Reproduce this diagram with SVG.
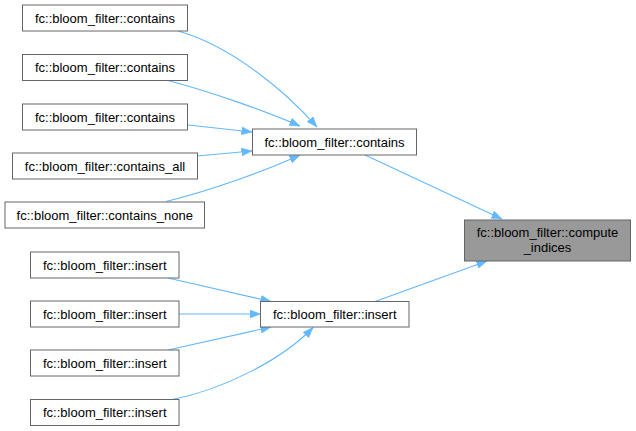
<svg xmlns="http://www.w3.org/2000/svg" width="636" height="431" viewBox="0 0 636 431">
<defs>
<style>
.n rect{fill:#ffffff;stroke:#666666;stroke-width:1}
.n.h rect{fill:#999999}
.n text{font-family:"Liberation Sans",Arial,sans-serif;font-size:13px;fill:#000000;text-anchor:middle}
.e path{fill:none;stroke:#63b8ff;stroke-width:1.1;marker-end:url(#ah)}
</style>
<marker id="ah" markerUnits="userSpaceOnUse" markerWidth="11" markerHeight="8" refX="10.5" refY="4" orient="auto">
<path d="M0,0 L10.5,4 L0,8 z" fill="#63b8ff" stroke="#63b8ff" stroke-width="0.5"/>
</marker>
</defs>
<rect width="636" height="431" fill="#ffffff"/>
<g id="edges" class="e">
<path d="M178,31 C232,46 286,92 317,127"/>
<path d="M166,80 C212,92 265,111 300,126"/>
<path d="M188,125 L252,132"/>
<path d="M197,156 L252,151"/>
<path d="M166,201.5 C212,190 265,171 300,155"/>
<path d="M365,155 L502,219"/>
<path d="M375,301.5 L487,261"/>
<path d="M168,278 L271,301.5"/>
<path d="M179,314 L260.5,314"/>
<path d="M168,350 L271,327"/>
<path d="M172,399.5 C222,390 282,360 313,327.5"/>
</g>
<g id="n1" class="n"><rect x="22.5" y="5" width="165" height="26"/><text x="105" y="22.5">fc::bloom_filter::contains</text></g>
<g id="n2" class="n"><rect x="22.5" y="54.5" width="165" height="26"/><text x="105" y="72">fc::bloom_filter::contains</text></g>
<g id="n3" class="n"><rect x="22.5" y="104" width="165" height="26"/><text x="105" y="121.5">fc::bloom_filter::contains</text></g>
<g id="n4" class="n"><rect x="12.5" y="153" width="185" height="26"/><text x="105" y="170.5">fc::bloom_filter::contains_all</text></g>
<g id="n5" class="n"><rect x="5" y="202" width="199.5" height="26"/><text x="104.75" y="219.5">fc::bloom_filter::contains_none</text></g>
<g id="n6" class="n"><rect x="252.5" y="129" width="164" height="26"/><text x="334.5" y="146.5">fc::bloom_filter::contains</text></g>
<g id="n7" class="n h"><rect x="464.5" y="220" width="166" height="41"/><text x="547.5" y="237">fc::bloom_filter::compute</text><text x="547.5" y="252">_indices</text></g>
<g id="n8" class="n"><rect x="30.5" y="252" width="148.5" height="26"/><text x="104.75" y="269.5">fc::bloom_filter::insert</text></g>
<g id="n9" class="n"><rect x="30.5" y="301" width="148.5" height="26"/><text x="104.75" y="318.5">fc::bloom_filter::insert</text></g>
<g id="n10" class="n"><rect x="30.5" y="350" width="148.5" height="26"/><text x="104.75" y="367.5">fc::bloom_filter::insert</text></g>
<g id="n11" class="n"><rect x="30.5" y="399.5" width="148.5" height="26"/><text x="104.75" y="417">fc::bloom_filter::insert</text></g>
<g id="n12" class="n"><rect x="260.5" y="301.5" width="148.5" height="25.5"/><text x="334.75" y="318.75">fc::bloom_filter::insert</text></g>
</svg>
